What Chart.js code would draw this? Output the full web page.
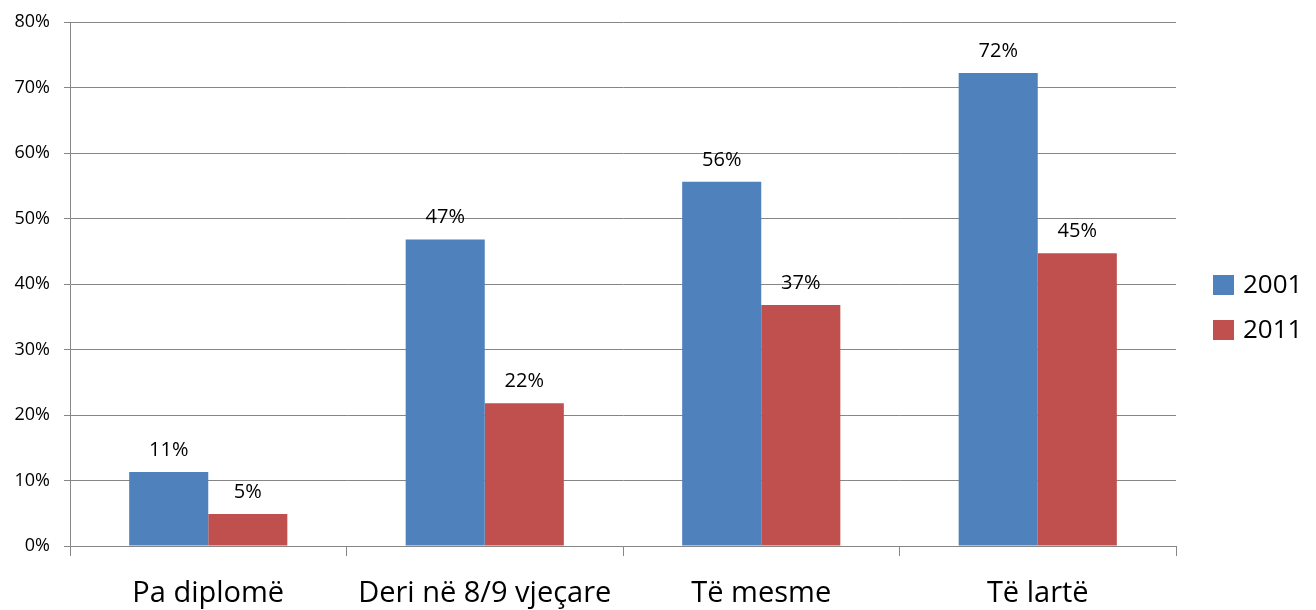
<!DOCTYPE html>
<html>
<head>
<meta charset="utf-8">
<script src="https://cdn.jsdelivr.net/npm/chart.js@4"></script>
<style>
  html,body{margin:0;padding:0;background:#fff;}
  #wrap{width:1316px;height:610px;position:relative;}
</style>
</head>
<body>
<div id="wrap"><canvas id="eduChart"></canvas></div>
<script>
// ==========================================
// DATA
// ==========================================

const categories = ["Pa diplomë", "Deri në 8/9 vjeçare", "Të mesme", "Të lartë"];

const seriesNames = ["2001", "2011"];

const values2001 = [11.3, 46.8, 55.6, 72.2];
const values2011 = [4.9, 21.8, 36.8, 44.7];

const labels2001 = ["11%", "47%", "56%", "72%"];
const labels2011 = ["5%", "22%", "37%", "45%"];

const yTicks = [0, 10, 20, 30, 40, 50, 60, 70, 80];

const colors = ["#4F81BD", "#C0504D"];

const FONT = "'Open Sans', 'DejaVu Sans', sans-serif";

// ==========================================
// PLUGINS
// ==========================================

// label persen di atas batang
const barLabels = {
    id: "barLabels",
    afterDatasetsDraw(chart){
        const ctx = chart.ctx;
        const texts = [labels2001, labels2011];
        ctx.save();
        ctx.font = "20px " + FONT;
        ctx.fillStyle = "#000";
        ctx.textAlign = "center";
        ctx.textBaseline = "bottom";
        chart.data.datasets.forEach(function(ds, i){
            chart.getDatasetMeta(i).data.forEach(function(bar, j){
                ctx.fillText(texts[i][j], bar.x, bar.y - 12);
            });
        });
        ctx.restore();
    }
};

// legenda di kanan
const sideLegend = {
    id: "sideLegend",
    afterDraw(chart){
        const ctx = chart.ctx;
        ctx.save();
        ctx.font = "26px " + FONT;
        ctx.textBaseline = "middle";
        ctx.textAlign = "left";
        seriesNames.forEach(function(name, i){
            const y = 285 + i * 45;
            ctx.fillStyle = colors[i];
            ctx.fillRect(1213, y - 10, 21, 20);
            ctx.fillStyle = "#000";
            ctx.fillText(name, 1243, y + 1);
        });
        ctx.restore();
    }
};

// ==========================================
// CHART
// ==========================================

const ctx = document.getElementById("eduChart").getContext("2d");

const chart = new Chart(ctx, {

    type: "bar",

    data: {
        labels: categories,
        datasets: [
            {
                label: seriesNames[0],
                data: values2001,
                backgroundColor: colors[0],
                categoryPercentage: 0.572,
                barPercentage: 1
            },
            {
                label: seriesNames[1],
                data: values2011,
                backgroundColor: colors[1],
                categoryPercentage: 0.572,
                barPercentage: 1
            }
        ]
    },

    options: {
        responsive: true,
        maintainAspectRatio: false,
        animation: false,
        layout: {
            padding: { top: 22, right: 140, left: 0, bottom: 0 }
        },
        plugins: {
            legend: { display: false },
            tooltip: { enabled: false }
        },
        scales: {
            x: {
                offset: true,
                grid: {
                    offset: true,
                    drawOnChartArea: false,
                    drawTicks: true,
                    tickLength: 10,
                    color: "#868686"
                },
                border: { display: true, color: "#868686", width: 1 },
                ticks: {
                    color: "#000",
                    padding: 20,
                    font: { family: FONT, size: 29 }
                },
                afterFit(scale){
                    scale.height = 64;
                    scale.paddingLeft = 0;
                    scale.paddingRight = 0;
                }
            },
            y: {
                min: 0,
                max: 80,
                afterBuildTicks(scale){
                    scale.ticks = yTicks.map(function(v){ return { value: v }; });
                },
                grid: {
                    color: "#868686",
                    drawTicks: true,
                    tickLength: 6
                },
                border: { display: true, color: "#868686", width: 1 },
                ticks: {
                    color: "#000",
                    padding: 14,
                    font: { family: FONT, size: 18 },
                    callback: function(v){ return v + "%"; }
                },
                afterFit(scale){
                    scale.width = 70;
                    scale.paddingTop = 0;
                    scale.paddingBottom = 0;
                }
            }
        }
    },

    plugins: [barLabels, sideLegend]

});
</script>
</body>
</html>
